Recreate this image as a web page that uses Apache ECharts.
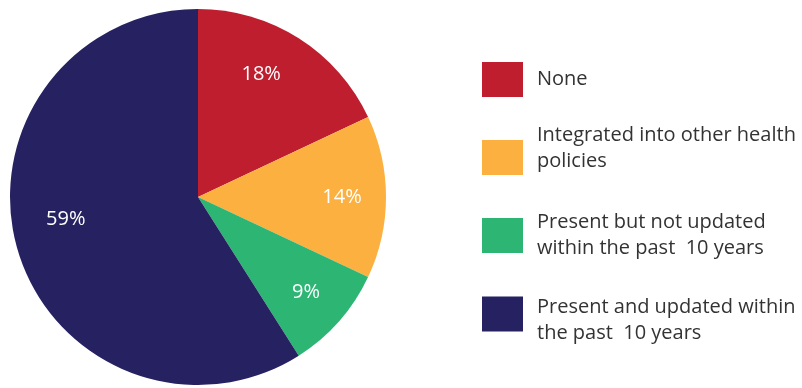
<!DOCTYPE html>
<html>
<head>
<meta charset="utf-8">
<script src="https://cdn.jsdelivr.net/npm/echarts@6/dist/echarts.min.js"></script>
<style>
  html, body { margin: 0; padding: 0; background: #fff; }
  #chart { width: 802px; height: 388px; }
</style>
</head>
<body>
<div id="chart"></div>
<script>
// Status of national policy categories (share of countries, %)
const categories = [
  'None',
  'Integrated into other health\npolicies',
  'Present but not updated\nwithin the past  10 years',
  'Present and updated within\nthe past  10 years'
];
const shares = [18, 14, 9, 59];
const colors = ['#BE1E2D', '#FBB040', '#2DB574', '#262262'];

const FONT = '"Open Sans", Lato, sans-serif';

const pieData = categories.map((name, i) => ({
  name: name,
  value: shares[i],
  itemStyle: { color: colors[i] }
}));

// one legend block per category; an empty spacer line shifts a text block
// up (spacer below) or down (spacer above) relative to its swatch
const legendTops = [62, 122.5, 209.5, 282];
const spacerBelow = [0, 18, 0, 0];
const spacerAbove = [0, 0, 0, 12];

function legendText(i) {
  let s = categories[i];
  if (spacerAbove[i]) s = '{a| }\n' + s;
  if (spacerBelow[i]) s = s + '\n{b| }';
  return s;
}

const legends = categories.map((name, i) => ({
  data: [name],
  orient: 'vertical',
  left: 482,
  top: legendTops[i],
  itemWidth: 41,
  itemHeight: 35,
  itemGap: 0,
  icon: 'rect',
  selectedMode: false,
  padding: 0,
  formatter: () => legendText(i),
  textStyle: {
    fontFamily: FONT,
    fontSize: 20,
    lineHeight: 26,
    color: '#333',
    padding: [0, 0, 0, 9],
    rich: {
      a: { fontSize: 2, lineHeight: spacerAbove[i] || 1, height: spacerAbove[i] || 1 },
      b: { fontSize: 2, lineHeight: spacerBelow[i] || 1, height: spacerBelow[i] || 1 }
    }
  }
}));

// small offsets for the percentage labels
const labelNudge = [[-14, -1], [0, 0], [0, 0], [6, -18]];

const chart = echarts.init(document.getElementById('chart'));
chart.setOption({
  animation: false,
  legend: legends,
  series: [
    {
      type: 'pie',
      center: [198, 197],
      radius: [0, 188],
      startAngle: 90,
      clockwise: true,
      silent: true,
      label: { show: false },
      labelLine: { show: false },
      data: pieData
    },
    {
      // transparent ring used only to place the percentage labels
      type: 'pie',
      center: [198, 197],
      radius: [0, 282],
      startAngle: 90,
      clockwise: true,
      silent: true,
      legendHoverLink: false,
      itemStyle: { color: 'transparent' },
      label: {
        show: true,
        position: 'inside',
        formatter: '{c}%',
        color: '#fff',
        fontFamily: FONT,
        fontSize: 20
      },
      labelLine: { show: false },
      labelLayout: (p) => ({ dx: labelNudge[p.dataIndex][0], dy: labelNudge[p.dataIndex][1] }),
      data: shares.map((v, i) => ({ name: 'lbl' + i, value: v }))
    }
  ]
});
</script>
</body>
</html>
